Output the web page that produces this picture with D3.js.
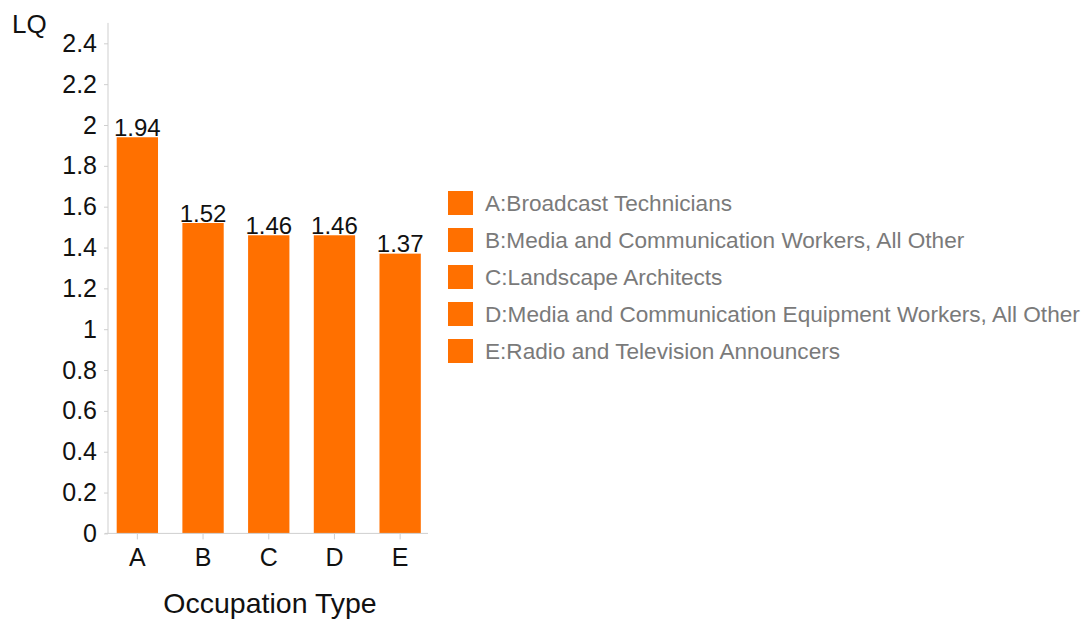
<!DOCTYPE html>
<html><head><meta charset="utf-8">
<script src="https://cdn.jsdelivr.net/npm/d3@7"></script>
<style>body{margin:0;background:#fff;} text{font-family:"Liberation Sans",Arial,Helvetica,sans-serif;}</style>
</head><body>
<svg id="c" width="1085" height="619"></svg>
<script>
const categories = ["A","B","C","D","E"];
const values = [1.94, 1.52, 1.46, 1.46, 1.37];
const legendLabels = ["A:Broadcast Technicians","B:Media and Communication Workers, All Other","C:Landscape Architects","D:Media and Communication Equipment Workers, All Other","E:Radio and Television Announcers"];
const yTicks = [0,0.2,0.4,0.6,0.8,1,1.2,1.4,1.6,1.8,2,2.2,2.4];

const svg = d3.select("#c");
const color = "#ff7000";
const axisColor = "#cfcfcf";
const x0 = 108, x1 = 428;
const y = d3.scaleLinear().domain([0,2.5]).range([533.4, 22.9]);
const x = d3.scaleBand().domain(categories).range([104.5, 433]).paddingInner(0.371).paddingOuter(0.1855);

// bars
svg.selectAll("rect.bar").data(values).join("rect").attr("class","bar")
  .attr("x",(d,i)=>x(categories[i])).attr("width",x.bandwidth())
  .attr("y",d=>y(d)).attr("height",d=>y(0)-y(d)).attr("fill",color);

// value labels
svg.selectAll("text.val").data(values).join("text").attr("class","val")
  .attr("x",(d,i)=>x(categories[i])+x.bandwidth()/2).attr("y",d=>y(d)-1.5)
  .attr("text-anchor","middle").attr("font-size",24).attr("fill","#111")
  .text(d=>d3.format(".2f")(d));

// y axis
const yAxis = d3.axisLeft(y).tickValues(yTicks).tickSize(4).tickPadding(7).tickFormat(d3.format("~g"));
const gy = svg.append("g").attr("transform",`translate(${x0},0)`).call(yAxis);
gy.select(".domain").remove();
gy.selectAll(".tick line").attr("stroke",axisColor);
gy.selectAll(".tick text").attr("font-size",25).attr("fill","#111").attr("font-family","Liberation Sans, Arial, sans-serif");
svg.append("line").attr("x1",x0).attr("x2",x0).attr("y1",y(2.5)).attr("y2",y(0)).attr("stroke",axisColor);

// x axis
const xAxis = d3.axisBottom(x).tickSize(6).tickPadding(9);
const gx = svg.append("g").attr("transform",`translate(0,${y(0)})`).call(xAxis);
gx.select(".domain").remove();
gx.selectAll(".tick line").attr("stroke",axisColor);
gx.selectAll(".tick text").attr("font-size",25).attr("fill","#111").attr("font-family","Liberation Sans, Arial, sans-serif");
svg.append("line").attr("x1",x0-3).attr("x2",x1).attr("y1",y(0)).attr("y2",y(0)).attr("stroke",axisColor);

// titles
svg.append("text").attr("x",12).attr("y",33).attr("font-size",26).attr("fill","#111").text("LQ");
svg.append("text").attr("x",270).attr("y",613).attr("text-anchor","middle").attr("font-size",28.5).attr("fill","#111").text("Occupation Type");

// legend
const lg = svg.append("g");
legendLabels.forEach((t,i)=>{
  const yy = 191 + i*37;
  lg.append("rect").attr("x",448).attr("y",yy).attr("width",25).attr("height",24).attr("fill",color);
  lg.append("text").attr("x",485).attr("y",yy+20).attr("font-size",22.6).attr("fill","#7a7a7a").text(t);
});
</script>
</body></html>
